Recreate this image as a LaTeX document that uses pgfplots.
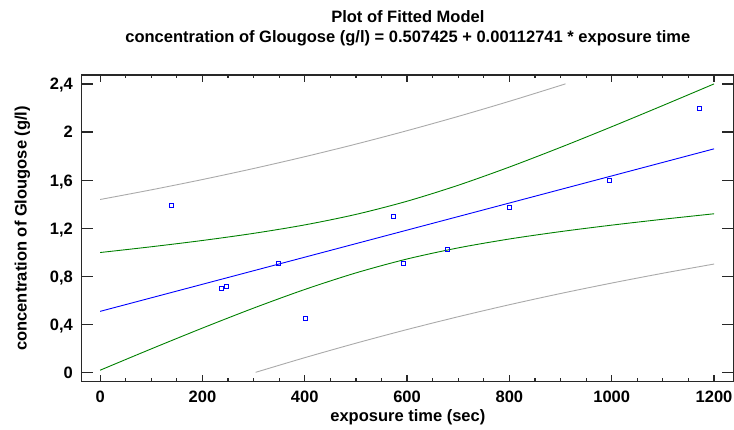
\documentclass[border=0pt]{standalone}
\usepackage{fontspec}
\setmainfont{Liberation Sans}
\usepackage{pgfplots}
\pgfplotsset{compat=1.18}
\definecolor{fitblue}{RGB}{0,0,255}
\definecolor{confgreen}{RGB}{0,128,0}
\definecolor{predgray}{RGB}{170,170,170}
\definecolor{axisgray}{RGB}{40,40,40}
\newcommand\ff{\fontsize{16.5}{20.3}\selectfont\bfseries}
\begin{document}
\ff
\begin{tikzpicture}
\path[use as bounding box] (-81.7pt,-48.3pt) rectangle (652.3pt,381.7pt);
\begin{axis}[
  at={(0pt,0pt)}, anchor=south west,
  scale only axis, width=652.3pt, height=306.7pt,
  xmin=-36, xmax=1239, ymin=-0.078, ymax=2.475,
  xtick={0,200,...,1200}, minor x tick num=3,
  ytick={0,0.4,0.8,1.2,1.6,2,2.4},
  tick align=inside, tick pos=both,
  major tick length=6.7pt, minor tick length=3.3pt,
  y tick style={/pgfplots/major tick length=11.7pt},
  axis line style={axisgray, line width=1.2pt},
  tick style={axisgray, line width=1.2pt},
  /pgf/number format/use comma,
  /pgf/number format/1000 sep={},
  /pgf/number format/assume math mode=true,
  every tick label/.append style={font=\ff},
  xticklabel style={anchor=base, yshift=-21pt},
  yticklabel style={anchor=base east, yshift=-5.9pt, xshift=-3.2pt},
  xlabel={exposure time (sec)},
  ylabel={concentration of Glougose (g/l)},
  every axis x label/.style={at={(axis description cs:0.5,0)}, anchor=base, yshift=-40pt, font=\ff},
  every axis y label/.style={at={(axis description cs:-0.0843,0.5)}, rotate=90, anchor=base, font=\ff},
  title={Plot of Fitted Model\\concentration of Glougose (g/l) = 0.507425 + 0.00112741 * exposure time},
  every axis title/.style={at={(axis description cs:0.5,1)}, anchor=north, yshift=65pt, inner sep=0pt, align=center, font=\ff},
]
\addplot[predgray, line width=0.9pt, smooth] coordinates {(0,1.4386)(100,1.5190)(200,1.6048)(300,1.6966)(400,1.7948)(500,1.8997)(600,2.0116)(700,2.1304)(800,2.2561)(900,2.3882)(908,2.4)};
\addplot[predgray, line width=0.9pt, smooth] coordinates {(304,0)(400,0.1220)(500,0.2425)(600,0.3562)(700,0.4628)(800,0.5627)(900,0.6560)(1000,0.7431)(1100,0.8248)(1200,0.9014)};
\addplot[confgreen, line width=0.9pt, smooth] coordinates {(0,0.9972)(100,1.0452)(200,1.0975)(300,1.1568)(400,1.2272)(500,1.3146)(600,1.4244)(700,1.5573)(800,1.7089)(900,1.8728)(1000,2.0444)(1100,2.2211)(1200,2.4008)};
\addplot[confgreen, line width=0.9pt, smooth] coordinates {(0,0.0176)(100,0.1952)(200,0.3683)(300,0.5346)(400,0.6896)(500,0.8276)(600,0.9434)(700,1.0359)(800,1.1099)(900,1.1714)(1000,1.2252)(1100,1.2741)(1200,1.3198)};
\addplot[fitblue, line width=0.9pt] coordinates {(0,0.5074)(600,1.1839)(1200,1.8603)};
\addplot[only marks, mark=square, mark size=2pt, color=fitblue, mark options={draw=fitblue, line width=0.9pt}] coordinates {(140,1.385)(238,0.702)(246,0.713)(348,0.904)(402,0.446)(574,1.299)(592,0.904)(678,1.021)(800,1.376)(996,1.601)(1171,2.200)};
\end{axis}
\end{tikzpicture}
\end{document}
